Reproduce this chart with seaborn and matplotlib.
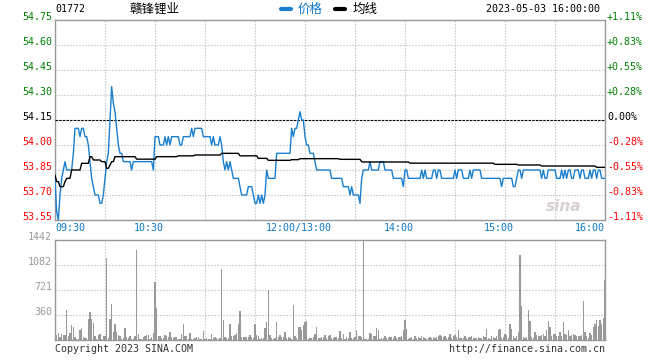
import numpy as np
import pandas as pd
import seaborn as sns
import matplotlib
matplotlib.use("Agg")
import matplotlib.pyplot as plt
import matplotlib.transforms as mtransforms
from matplotlib.lines import Line2D

# 01772 赣锋锂业, 2023-05-03 intraday (one value per trading minute, 09:30 .. 16:00)
code = "01772"
name = "赣锋锂业"
stamp = "2023-05-03 16:00:00"
prev_close = 54.15

# price as (level, minutes held)
price_runs = [
    (53.80, 1), (53.60, 1), (53.55, 1), (53.70, 1), (53.80, 1), (53.85, 1), (53.90, 1), (53.85, 4),
    (53.95, 1), (54.10, 3), (54.05, 1), (54.10, 2), (54.05, 2), (54.00, 1), (53.90, 1), (53.80, 1),
    (53.75, 1), (53.70, 3), (53.65, 2), (53.70, 1), (53.80, 1), (53.90, 1), (53.95, 1), (54.15, 1),
    (54.35, 1), (54.25, 1), (54.20, 1), (54.10, 1), (54.00, 1), (53.95, 2), (53.90, 5), (53.85, 1),
    (53.90, 12), (53.85, 1),
    (54.05, 3), (54.00, 3), (54.05, 1), (54.00, 1), (54.05, 1), (54.00, 1), (54.05, 5), (54.00, 2),
    (54.05, 4),
    (54.05, 1), (54.10, 1), (54.05, 1), (54.10, 5), (54.05, 5), (54.00, 1), (54.05, 1), (54.00, 3),
    (54.05, 1), (54.00, 1),
    (53.90, 1), (53.85, 1), (53.90, 1), (53.85, 1), (53.90, 1), (53.85, 1), (53.80, 4), (53.75, 1),
    (53.70, 4), (53.75, 3), (53.70, 1), (53.65, 2), (53.70, 1), (53.65, 1), (53.70, 1), (53.65, 1),
    (53.70, 1), (53.85, 1), (53.80, 5), (53.95, 9),
    (54.10, 1), (54.05, 1), (54.10, 2), (54.15, 1), (54.20, 1), (54.15, 2), (54.05, 1), (54.00, 2),
    (53.95, 3), (53.90, 1), (53.85, 9),
    (53.80, 7), (53.75, 4), (53.70, 1), (53.75, 1), (53.70, 4), (53.65, 1), (53.80, 1), (53.85, 4),
    (53.90, 1), (53.85, 5), (53.90, 3), (53.85, 5), (53.80, 6), (53.75, 1), (53.85, 2), (53.80, 8),
    (53.85, 1), (53.80, 1), (53.85, 1), (53.80, 4), (53.85, 2), (53.80, 1), (53.85, 2), (53.80, 8),
    (53.85, 1), (53.80, 1), (53.85, 3), (53.80, 4),
    (53.85, 1), (53.80, 1), (53.85, 5), (53.80, 12), (53.75, 1), (53.80, 6), (53.75, 2), (53.80, 1),
    (53.85, 2), (53.80, 1), (53.85, 11),
    (53.80, 1), (53.85, 1), (53.80, 2), (53.85, 5), (53.80, 3), (53.85, 1), (53.80, 1), (53.85, 1),
    (53.80, 1), (53.85, 2), (53.80, 2), (53.85, 3), (53.80, 1), (53.85, 2), (53.80, 3), (53.85, 1),
    (53.80, 1), (53.85, 2), (53.80, 1), (53.85, 2), (53.80, 3),
]

# average price line as (level, minutes held)
avg_runs = [
    (53.82, 1), (53.78, 2), (53.75, 3), (53.78, 1), (53.80, 3), (53.85, 6), (53.89, 5), (53.93, 2),
    (53.91, 5), (53.90, 3), (53.86, 2), (53.88, 1), (53.90, 2), (53.93, 13), (53.915, 12), (53.93, 13),
    (53.935, 10), (53.94, 16), (53.95, 11), (53.935, 11), (53.92, 6), (53.908, 14), (53.912, 5),
    (53.918, 24), (53.914, 13), (53.90, 1), (53.898, 28), (53.891, 51), (53.884, 14), (53.88, 14),
    (53.874, 33), (53.866, 6),
]

volume = [
    60, 67, 101, 40, 87, 77, 77, 433, 58, 101,
    212, 187, 43, 14, 14, 144, 173, 38, 29, 29,
    303, 404, 303, 245, 58, 14, 77, 87, 14, 58,
    58, 1183, 29, 303, 519, 115, 231, 115, 67, 58,
    14, 29, 173, 38, 29, 53, 14, 14, 53, 1298,
    87, 14, 14, 38, 53, 77, 77, 20, 38, 106,
    836, 461, 58, 58, 29, 29, 77, 53, 38, 115,
    38, 29, 38, 48, 14, 14, 91, 231, 58, 53,
    14, 101, 20, 14, 29, 43, 38, 14, 14, 125,
    14, 29, 14, 14, 87, 29, 38, 29, 14, 29,
    1024, 288, 43, 29, 29, 231, 58, 53, 67, 101,
    231, 418, 43, 38, 43, 43, 38, 72, 38, 29,
    231, 72, 58, 14, 29, 29, 173, 262, 721, 72,
    29, 14, 29, 260, 43, 72, 43, 43, 115, 29,
    43, 29, 14, 505, 58, 29, 187, 187, 144, 216,
    260, 274, 14, 29, 29, 43, 87, 183, 29, 29,
    38, 43, 72, 29, 53, 67, 29, 29, 38, 48,
    29, 130, 29, 87, 14, 38, 29, 115, 29, 29,
    43, 144, 58, 58, 43, 1442, 14, 14, 14, 101,
    87, 58, 58, 173, 144, 14, 29, 29, 58, 29,
    38, 48, 38, 29, 58, 29, 38, 38, 58, 144,
    288, 163, 14, 29, 38, 14, 58, 29, 38, 29,
    58, 38, 29, 14, 29, 43, 29, 43, 29, 43,
    58, 67, 58, 43, 58, 29, 48, 87, 29, 58,
    72, 43, 144, 29, 29, 29, 58, 29, 43, 43,
    58, 29, 29, 29, 43, 29, 29, 58, 43, 159,
    29, 14, 58, 43, 29, 58, 144, 159, 29, 43,
    87, 72, 29, 231, 159, 58, 29, 58, 115, 1231,
    490, 43, 29, 43, 433, 279, 43, 29, 115, 72,
    58, 58, 72, 87, 58, 144, 279, 187, 58, 87,
    87, 58, 58, 115, 58, 260, 87, 72, 144, 58,
    72, 87, 72, 58, 58, 58, 72, 567, 115, 58,
    29, 101, 72, 187, 231, 288, 202, 288, 231, 317, 865,
]

price_ticks = [54.75, 54.60, 54.45, 54.30, 54.15, 54.00, 53.85, 53.70, 53.55]
time_ticks = [0, 60, 150, 210, 270, 330]
time_labels = ["09:30", "10:30", "12:00/13:00", "14:00", "15:00", "16:00"]

price = np.repeat([p for p, n in price_runs], [n for p, n in price_runs])
avg = np.repeat([p for p, n in avg_runs], [n for p, n in avg_runs])
df = pd.DataFrame({"minute": np.arange(len(volume)), "price": price, "avg": avg, "volume": volume})

sns.set_style("white")
plt.rcParams["font.family"] = ["DejaVu Sans Mono", "Noto Sans CJK SC"]
mono = 7.2
BLUE = "#1a7fd0"
TBLUE = "#0a78c8"
GREEN = "#008000"
RED = "#ff0000"
FRAME = "#999999"
GRID = "#aaaaaa"

fig = plt.figure(figsize=(6.6, 3.6), dpi=100)
fig.patch.set_facecolor("white")
W, H = 660, 360
ax = fig.add_axes([55 / W, 1 - 220 / H, 550 / W, 200 / H])
axv = fig.add_axes([55 / W, 1 - 340 / H, 550 / W, 100 / H])

n_min = len(df) - 1
vmax = df["volume"].max()
vol_ticks = [vmax * k / 4 for k in (4, 3, 2, 1)]

for a in (ax, axv):
    a.set_xlim(0, n_min)
    a.set_xticks(np.arange(0, n_min + 1, 30))
    a.set_xticklabels([])
    a.set_yticklabels([])
    a.tick_params(length=0)
    a.grid(True, color=GRID, linestyle=(0, (0.9, 1.8)), linewidth=0.8)
    for s in a.spines.values():
        s.set_color(FRAME)
        s.set_linewidth(1.0)

ax.set_ylim(price_ticks[-1], price_ticks[0])
ax.set_yticks(price_ticks)
ax.set_yticklabels([])
axv.set_ylim(0, vmax)
axv.set_yticks(vol_ticks)
axv.set_yticklabels([])

ax.axhline(prev_close, color="black", linestyle=(0, (2.2, 1.1)), linewidth=0.8, zorder=3)
sns.lineplot(data=df, x="minute", y="price", ax=ax, color=BLUE, linewidth=1.0, zorder=4)
sns.lineplot(data=df, x="minute", y="avg", ax=ax, color="black", linewidth=1.0, zorder=5)
ax.set_xlabel("")
ax.set_ylabel("")
axv.bar(df["minute"], df["volume"], width=0.7, color="#999999", linewidth=0,
        antialiased=False, zorder=3)

# price labels, left and right
left_t = mtransforms.offset_copy(ax.get_yaxis_transform(), fig=fig, x=-3, y=3, units="dots")
right_t = mtransforms.offset_copy(ax.get_yaxis_transform(), fig=fig, x=2, y=3, units="dots")
for p in price_ticks:
    pct = (p - prev_close) / prev_close * 100
    if abs(p - prev_close) < 1e-9:
        col, ptxt = "black", "0.00%"
    elif p > prev_close:
        col, ptxt = GREEN, f"{pct:+.2f}%"
    else:
        col, ptxt = RED, f"{pct:+.2f}%"
    ax.text(0, p, f"{p:.2f}", transform=left_t, ha="right", va="center", color=col, fontsize=mono)
    ax.text(1, p, ptxt, transform=right_t, ha="left", va="center", color=col, fontsize=mono)

# volume labels
vol_t = mtransforms.offset_copy(axv.get_yaxis_transform(), fig=fig, x=-3, y=3, units="dots")
for v in vol_ticks:
    axv.text(0, v, f"{v:.0f}", transform=vol_t, ha="right", va="center", color="#999999", fontsize=mono)

# time labels
for i, (m, lab) in enumerate(zip(time_ticks, time_labels)):
    if i == 0:
        ha, dx = "left", 0
    elif i == len(time_ticks) - 1:
        ha, dx = "right", 0
    else:
        ha, dx = "center", -6
    tt = mtransforms.offset_copy(ax.get_xaxis_transform(), fig=fig, x=dx, y=-8, units="dots")
    ax.text(m, 0, lab, transform=tt, ha=ha, va="center", color=TBLUE, fontsize=mono)

# header
fig.text(55 / W, 1 - 9 / H, code, ha="left", va="center", fontsize=mono, color="black")
fig.text(154 / W, 1 - 9.5 / H, name, ha="center", va="center", fontsize=9,
         family=["Noto Sans CJK SC", "DejaVu Sans"], color="black")
fig.text(600 / W, 1 - 9 / H, stamp, ha="right", va="center", fontsize=mono, color="black")
handles = [Line2D([], [], color=BLUE, lw=3), Line2D([], [], color="black", lw=3)]
leg = fig.legend(handles, ["价格", "均线"], loc="center", bbox_to_anchor=(329 / W, 1 - 9.5 / H),
                 ncol=2, frameon=False, handlelength=0.8, handletextpad=0.55, columnspacing=1.0,
                 borderpad=0, prop={"family": ["Noto Sans CJK SC", "DejaVu Sans"], "size": 9})
leg.get_texts()[0].set_color(TBLUE)
leg.get_texts()[1].set_color("black")

# watermark
ax.text(0.925, 0.07, "sina", transform=ax.transAxes, ha="center", va="center", fontsize=11,
        fontweight="bold", fontstyle="italic", family=["DejaVu Sans"], color="#d8d0d0", zorder=1)

# footer
fig.text(55 / W, 1 - 349 / H, "Copyright 2023 SINA.COM", ha="left", va="center", fontsize=mono, color="#333333")
fig.text(605 / W, 1 - 349 / H, "http://finance.sina.com.cn", ha="right", va="center", fontsize=mono, color="#333333")

fig.savefig("out.png", dpi=100, facecolor="white")
